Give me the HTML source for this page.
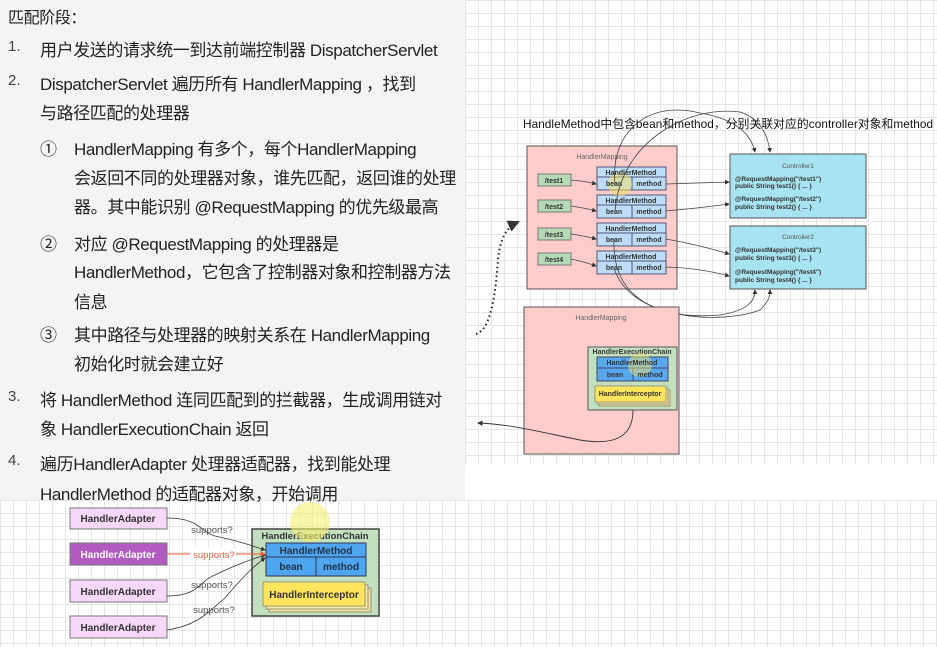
<!DOCTYPE html>
<html><head><meta charset="utf-8"><style>
body{margin:0;width:937px;height:647px;overflow:hidden;background:#fff;position:relative;font-family:"Liberation Sans","Noto Sans CJK SC",sans-serif}
.grid{position:absolute;background-color:#fff;background-image:linear-gradient(#e6e6e6 1px,transparent 1px),linear-gradient(90deg,#e6e6e6 1px,transparent 1px);background-size:13px 13px}
#left{position:absolute;left:0;top:0;width:465px;height:500px;background:#f4f4f4}
.t{position:absolute;font-size:17px;letter-spacing:-0.4px;color:#222;white-space:nowrap}
.n{position:absolute;font-size:15px;color:#444}
svg{position:absolute;left:0;top:0}
</style></head><body>
<div class="grid" style="left:465px;top:0;width:472px;height:465px"></div>
<div class="grid" style="left:0;top:500px;width:937px;height:147px"></div>
<div id="left"></div>
<div class="t" style="left:8px;top:4px;font-size:16px">匹配阶段：</div>
<div class="n" style="left:8px;top:38px">1.</div><div class="t" style="left:40px;top:36px">用户发送的请求统一到达前端控制器 DispatcherServlet</div>
<div class="n" style="left:8px;top:72px">2.</div><div class="t" style="left:40px;top:70px">DispatcherServlet 遍历所有 HandlerMapping ，找到</div>
<div class="t" style="left:40px;top:99px">与路径匹配的处理器</div>
<div class="t" style="left:40px;top:135px">①</div><div class="t" style="left:74px;top:135px">HandlerMapping 有多个，每个HandlerMapping</div>
<div class="t" style="left:74px;top:164px">会返回不同的处理器对象，谁先匹配，返回谁的处理</div>
<div class="t" style="left:74px;top:193px">器。其中能识别 @RequestMapping 的优先级最高</div>
<div class="t" style="left:40px;top:230px">②</div><div class="t" style="left:74px;top:230px">对应 @RequestMapping 的处理器是</div>
<div class="t" style="left:74px;top:258px">HandlerMethod，它包含了控制器对象和控制器方法</div>
<div class="t" style="left:74px;top:288px">信息</div>
<div class="t" style="left:40px;top:321px">③</div><div class="t" style="left:74px;top:321px">其中路径与处理器的映射关系在 HandlerMapping</div>
<div class="t" style="left:74px;top:350px">初始化时就会建立好</div>
<div class="n" style="left:8px;top:388px">3.</div><div class="t" style="left:40px;top:386px">将 HandlerMethod 连同匹配到的拦截器，生成调用链对</div>
<div class="t" style="left:40px;top:415px">象 HandlerExecutionChain 返回</div>
<div class="n" style="left:8px;top:452px">4.</div><div class="t" style="left:40px;top:450px">遍历HandlerAdapter 处理器适配器，找到能处理</div>
<div class="t" style="left:40px;top:480px">HandlerMethod 的适配器对象，开始调用</div>

<svg width="937" height="647" font-family="Liberation Sans, sans-serif">
<defs><marker id="a" markerWidth="6" markerHeight="6" refX="5" refY="3" orient="auto"><path d="M0,0L6,3L0,6z" fill="#333"/></marker>
<marker id="r" markerWidth="6" markerHeight="6" refX="5" refY="3" orient="auto"><path d="M0,0L6,3L0,6z" fill="#f05a3c"/></marker></defs>
<text x="523" y="128" font-size="11.8" fill="#111" textLength="410" font-family="Liberation Sans, Noto Sans CJK SC, sans-serif">HandleMethod中包含bean和method，分别关联对应的controller对象和method</text>
<!-- HM1 -->
<rect x="527" y="146" width="150" height="143" fill="#ffcccc" stroke="#555"/>
<text x="602" y="159" font-size="7" fill="#666" text-anchor="middle">HandlerMapping</text>
<g font-size="7" font-weight="bold" fill="#333" text-anchor="middle">
<g fill="#b5d9b5" stroke="#777"><rect x="538" y="174" width="33" height="12"/><rect x="538" y="200" width="33" height="12"/><rect x="538" y="228" width="33" height="12"/><rect x="538" y="253" width="33" height="12"/></g>
<text x="554" y="183">/test1</text><text x="554" y="209">/test2</text><text x="554" y="237">/test3</text><text x="554" y="262">/test4</text>
<g fill="#bcdcf8" stroke="#557">
<rect x="597" y="167" width="69" height="23"/><line x1="597" y1="177" x2="666" y2="177"/><line x1="632" y1="177" x2="632" y2="190"/>
<rect x="597" y="195" width="69" height="23"/><line x1="597" y1="205" x2="666" y2="205"/><line x1="632" y1="205" x2="632" y2="218"/>
<rect x="597" y="223" width="69" height="23"/><line x1="597" y1="233" x2="666" y2="233"/><line x1="632" y1="233" x2="632" y2="246"/>
<rect x="597" y="251" width="69" height="23"/><line x1="597" y1="261" x2="666" y2="261"/><line x1="632" y1="261" x2="632" y2="274"/>
</g>
<circle cx="620" cy="184" r="12" fill="#f5e35a" opacity="0.5"/>
<text x="631" y="175">HandlerMethod</text><text x="614" y="186">bean</text><text x="649" y="186">method</text>
<text x="631" y="203">HandlerMethod</text><text x="614" y="214">bean</text><text x="649" y="214">method</text>
<text x="631" y="231">HandlerMethod</text><text x="614" y="242">bean</text><text x="649" y="242">method</text>
<text x="631" y="259">HandlerMethod</text><text x="614" y="270">bean</text><text x="649" y="270">method</text>
</g>
<g stroke="#444" fill="none" stroke-width="0.8" marker-end="url(#a)">
<path d="M571,180 Q585,181 596,184"/><path d="M571,206 Q585,208 596,211"/><path d="M571,234 Q585,236 596,239"/><path d="M571,259 Q585,262 596,266"/>
<path d="M666,184 L729,182"/><path d="M666,211 Q700,208 729,204"/><path d="M666,239 Q700,245 729,254"/><path d="M666,267 Q700,268 729,276"/>
<path d="M615,184 C610,130 650,100 700,113 C730,118 750,130 755,152"/>
<path d="M615,212 C620,140 690,105 740,112 C760,118 768,135 770,152"/>
<path d="M614,240 C612,300 660,320 720,315 C750,310 755,300 755,290"/>
<path d="M614,268 C630,320 720,325 760,310 C770,300 770,295 770,290"/>
</g>
<!-- Controllers -->
<g fill="#a7e3f0" stroke="#555"><rect x="730" y="154" width="136" height="64"/><rect x="730" y="226" width="136" height="63"/></g>
<g font-size="6.5" fill="#333"><text x="798" y="168" text-anchor="middle" fill="#555">Controller1</text><text x="798" y="239" text-anchor="middle" fill="#555">Controller2</text>
<g font-weight="bold"><text x="735" y="181">@RequestMapping("/test1")</text><text x="735" y="188">public String test1() { ... }</text>
<text x="735" y="201">@RequestMapping("/test2")</text><text x="735" y="209">public String test2() { ... }</text>
<text x="735" y="252">@RequestMapping("/test3")</text><text x="735" y="260">public String test3() { ... }</text>
<text x="735" y="274">@RequestMapping("/test4")</text><text x="735" y="282">public String test4() { ... }</text></g></g>
<!-- HM2 -->
<rect x="524" y="307" width="155" height="147" fill="#ffcccc" stroke="#555"/>
<text x="601" y="320" font-size="7" fill="#666" text-anchor="middle">HandlerMapping</text>
<rect x="588" y="347" width="89" height="63" fill="#c2dfc0" stroke="#555"/>
<g font-size="7" font-weight="bold" fill="#333" text-anchor="middle">
<text x="632" y="354">HandlerExecutionChain</text>
<rect x="597" y="357" width="71" height="24" fill="#58a8f0" stroke="#446"/><line x1="597" y1="368" x2="668" y2="368" stroke="#446"/><line x1="633" y1="368" x2="633" y2="381" stroke="#446"/>
<circle cx="640" cy="365" r="12" fill="#e8e070" opacity="0.5"/>
<text x="632" y="365">HandlerMethod</text><text x="615" y="377">bean</text><text x="650" y="377">method</text>
<rect x="599" y="390" width="71" height="16" fill="#efe0a0" stroke="#997"/><rect x="597" y="388" width="71" height="16" fill="#f5e8a0" stroke="#997"/>
<rect x="595" y="386" width="71" height="16" fill="#ffe45c" stroke="#997"/>
<text x="630" y="396">HandlerInterceptor</text></g>
<path d="M633,410 C633,440 610,445 580,440 C540,432 510,424 478,423" stroke="#333" fill="none" stroke-width="0.9" marker-end="url(#a)"/>
<path d="M476,334 C490,330 495,300 498,260 C500,240 505,228 518,222" stroke="#222" fill="none" stroke-width="2" stroke-dasharray="1.5,3" marker-end="url(#a)"/>
<!-- bottom -->
<g font-size="10" font-weight="bold" text-anchor="middle">
<rect x="70" y="508" width="97" height="21" fill="#f8d8f8" stroke="#777"/><text x="118" y="522" fill="#333">HandlerAdapter</text>
<rect x="70" y="543" width="97" height="22" fill="#b25cc2" stroke="#777"/><text x="118" y="558" fill="#fff">HandlerAdapter</text>
<rect x="70" y="580" width="97" height="22" fill="#f8d8f8" stroke="#777"/><text x="118" y="595" fill="#333">HandlerAdapter</text>
<rect x="70" y="616" width="97" height="22" fill="#f8d8f8" stroke="#777"/><text x="118" y="631" fill="#333">HandlerAdapter</text>
<rect x="252" y="529" width="127" height="87" fill="#c2dfc0" stroke="#444" stroke-width="1.5"/>
<text x="315" y="539" font-size="9.5" fill="#333">HandlerExecutionChain</text>
<rect x="266" y="543" width="100" height="33" fill="#4fa6f0" stroke="#335"/><line x1="266" y1="557" x2="366" y2="557" stroke="#335"/><line x1="316" y1="557" x2="316" y2="576" stroke="#335"/>
<text x="316" y="554" fill="#234">HandlerMethod</text><text x="291" y="570" fill="#234">bean</text><text x="341" y="570" fill="#234">method</text>
<rect x="269" y="588" width="102" height="24" fill="#eee0a0" stroke="#997"/><rect x="266" y="585" width="102" height="24" fill="#f5e6a0" stroke="#997"/>
<rect x="263" y="582" width="102" height="24" fill="#ffe45c" stroke="#997"/>
<text x="314" y="598" fill="#333">HandlerInterceptor</text></g>
<circle cx="310" cy="522" r="20" fill="#f5ef70" opacity="0.6"/>
<g stroke="#333" fill="none" stroke-width="0.8" marker-end="url(#a)">
<path d="M167,518 C200,518 200,532 215,536 C235,540 250,545 265,550"/>
<path d="M167,596 C200,596 200,580 215,575 C235,565 250,560 265,555"/>
<path d="M167,630 C200,625 210,610 225,598 C240,580 255,565 265,558"/></g>
<path d="M167,554 L265,554" stroke="#f05a3c" stroke-width="0.9" marker-end="url(#r)"/>
<g font-size="9.5" text-anchor="middle"><text x="212" y="533" fill="#555">supports?</text>
<rect x="190" y="548" width="46" height="11" fill="#fff"/><text x="214" y="558" fill="#f05a3c">supports?</text>
<text x="212" y="588" fill="#555">supports?</text><text x="214" y="613" fill="#555">supports?</text></g>
</svg>
</body></html>
